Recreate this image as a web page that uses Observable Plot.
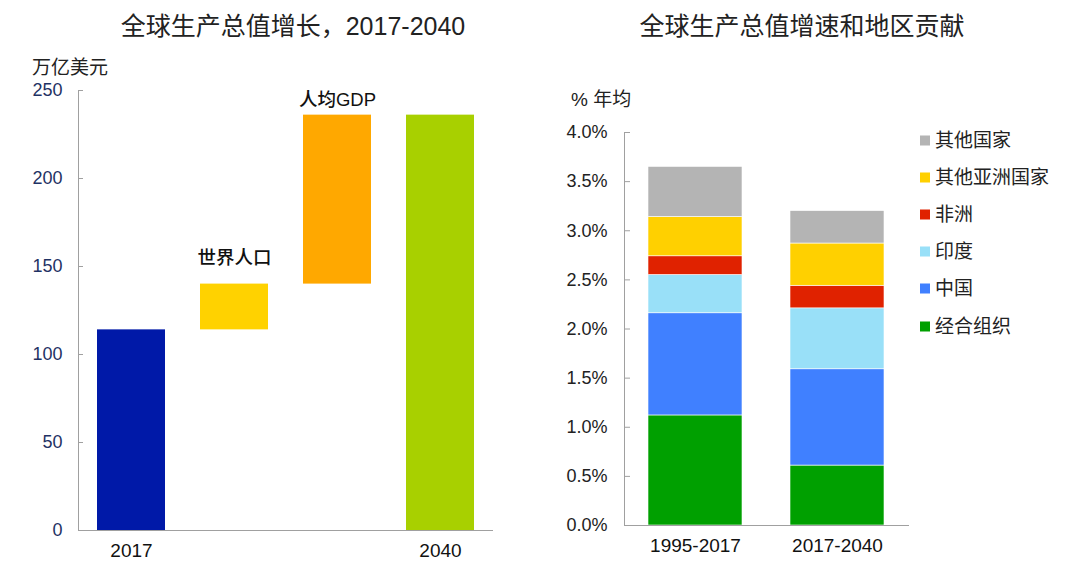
<!DOCTYPE html>
<html><head><meta charset="utf-8">
<script src="https://cdn.jsdelivr.net/npm/d3@7"></script>
<script src="https://cdn.jsdelivr.net/npm/@observablehq/plot@0.6"></script>
<style>
body{margin:0;background:#fff;font-family:"Liberation Sans","Noto Sans CJK SC",sans-serif;}
#wrap{position:relative;width:1080px;height:575px;overflow:hidden;background:#fff;}
.abs{position:absolute;white-space:nowrap;line-height:1;}
.title{font-size:25px;color:#222;transform:translate(-50%,-50%);}
.unit{font-size:19px;color:#222;transform:translateY(-50%);}
.lg{position:absolute;left:920px;font-size:19px;color:#222;display:flex;align-items:center;transform:translateY(-50%);white-space:nowrap;line-height:1;}
.lg i{display:inline-block;width:10px;height:10px;margin-right:5px;}
svg{position:absolute;top:0;}
</style></head><body><div id="wrap"></div>
<script>
// ---- Data: left panel (waterfall) ----
const gdpSteps = ["2017", "世界人口", "人均GDP", "2040"];
const gdpStart = [0, 114, 140, 0];
const gdpEnd = [114, 140, 236, 236];
const gdpTickLabels = ["2017", "2040"];
const gdpTicks = [0, 50, 100, 150, 200, 250];

// ---- Data: right panel (stacked growth contribution, % per year) ----
const periods = ["1995-2017", "2017-2040"];
const regions = ["经合组织", "中国", "印度", "非洲", "其他亚洲国家", "其他国家"];
const oecd = [1.12, 0.61];
const china = [1.04, 0.98];
const india = [0.39, 0.62];
const africa = [0.19, 0.23];
const otherAsia = [0.40, 0.43];
const others = [0.51, 0.33];
const growthTicks = [0, 0.5, 1.0, 1.5, 2.0, 2.5, 3.0, 3.5, 4.0];

// ---- Styles ----
const gdpColors = ["#0019a8", "#ffd200", "#ffa800", "#a8d000"];
const regionColors = ["#00a000", "#4080ff", "#99e0f8", "#e02200", "#ffd000", "#b4b4b4"];
const axisGray = "#a0a0a0";
const font = '"Liberation Sans","Noto Sans CJK SC",sans-serif';
const tickLen = 5;

const wrap = document.getElementById("wrap");

// Left rows
const gdpRows = gdpSteps.map((s, i) => ({step: s, start: gdpStart[i], end: gdpEnd[i]}));
const L = {width: 540, height: 575, marginLeft: 78, marginRight: 47, marginTop: 90, marginBottom: 45};
const leftFrameW = L.width - L.marginLeft - L.marginRight;

const left = Plot.plot({
  ...L,
  style: {fontFamily: font, background: "transparent", overflow: "visible"},
  x: {domain: gdpSteps, paddingInner: 0.336, paddingOuter: 0.165},
  y: {domain: [0, 250]},
  color: {domain: gdpSteps, range: gdpColors},
  marks: [
    Plot.barY(gdpRows, {x: "step", y1: "start", y2: "end", fill: "step"}),
    Plot.text(gdpRows.filter(d => d.step === "世界人口"), {x: "step", y: "end", text: "step", dy: -26, fontSize: 18.5, fontWeight: 500, fill: "#111"}),
    Plot.text(gdpRows.filter(d => d.step === "人均GDP"), {x: "step", y: "end", text: "step", dy: -15, fontSize: 18.5, fontWeight: 500, fill: "#111"}),
    Plot.tickY(gdpTicks, {y: d => d, stroke: axisGray, insetRight: leftFrameW - tickLen}),
    Plot.axisY({ticks: gdpTicks, tickSize: 0, tickPadding: 16, fill: "#1f3264", fontSize: 18, label: null}),
    Plot.axisX({tickSize: 0, tickPadding: 13, fontSize: 19, fill: "#111", label: null,
      tickFormat: d => gdpTickLabels.includes(d) ? d : ""}),
    Plot.frame({anchor: "left", stroke: axisGray}),
    Plot.ruleY([0], {stroke: axisGray})
  ]
});
left.style.left = "0px";
wrap.appendChild(left);

// Right rows
const series = [oecd, china, india, africa, otherAsia, others];
const growthRows = [];
periods.forEach((p, i) => regions.forEach((r, j) => growthRows.push({period: p, region: r, value: series[j][i]})));
const R = {width: 540, height: 575, marginLeft: 84, marginRight: 171, marginTop: 132, marginBottom: 50};
const rightFrameW = R.width - R.marginLeft - R.marginRight;

const right = Plot.plot({
  ...R,
  style: {fontFamily: font, background: "transparent", overflow: "visible"},
  x: {domain: periods, paddingInner: 0.336, paddingOuter: 0.168},
  y: {domain: [0, 4]},
  color: {domain: regions, range: regionColors},
  marks: [
    Plot.barY(growthRows, Plot.stackY({order: regions}, {x: "period", y: "value", fill: "region", stroke: "#fff", strokeWidth: 0.6})),
    Plot.tickY(growthTicks, {y: d => d, stroke: axisGray, insetRight: rightFrameW - tickLen - 1}),
    Plot.axisY({ticks: growthTicks, tickSize: 0, tickPadding: 17, fill: "#222", fontSize: 18, label: null,
      tickFormat: d => d.toFixed(1) + "%"}),
    Plot.axisX({tickSize: 0, tickPadding: 13, fontSize: 19, fill: "#111", label: null}),
    Plot.frame({anchor: "left", stroke: axisGray}),
    Plot.ruleY([0], {stroke: axisGray})
  ]
});
right.style.left = "540px";
wrap.appendChild(right);

// Titles and unit labels
function addText(cls, text, x, y) {
  const d = document.createElement("div");
  d.className = "abs " + cls;
  d.textContent = text;
  d.style.left = x + "px";
  d.style.top = y + "px";
  wrap.appendChild(d);
}
addText("title", "全球生产总值增长，2017-2040", 293, 26);
addText("title", "全球生产总值增速和地区贡献", 802, 26);
addText("unit", "万亿美元", 32, 67);
addText("unit", "% 年均", 571, 99);

// Legend (top to bottom = reverse stack order)
const legendY = [140, 177, 214, 251, 288, 326];
regions.slice().reverse().forEach((r, k) => {
  const d = document.createElement("div");
  d.className = "lg";
  d.style.top = legendY[k] + "px";
  const sw = document.createElement("i");
  sw.style.background = regionColors[regions.indexOf(r)];
  d.appendChild(sw);
  d.appendChild(document.createTextNode(r));
  wrap.appendChild(d);
});
</script>
</body></html>
